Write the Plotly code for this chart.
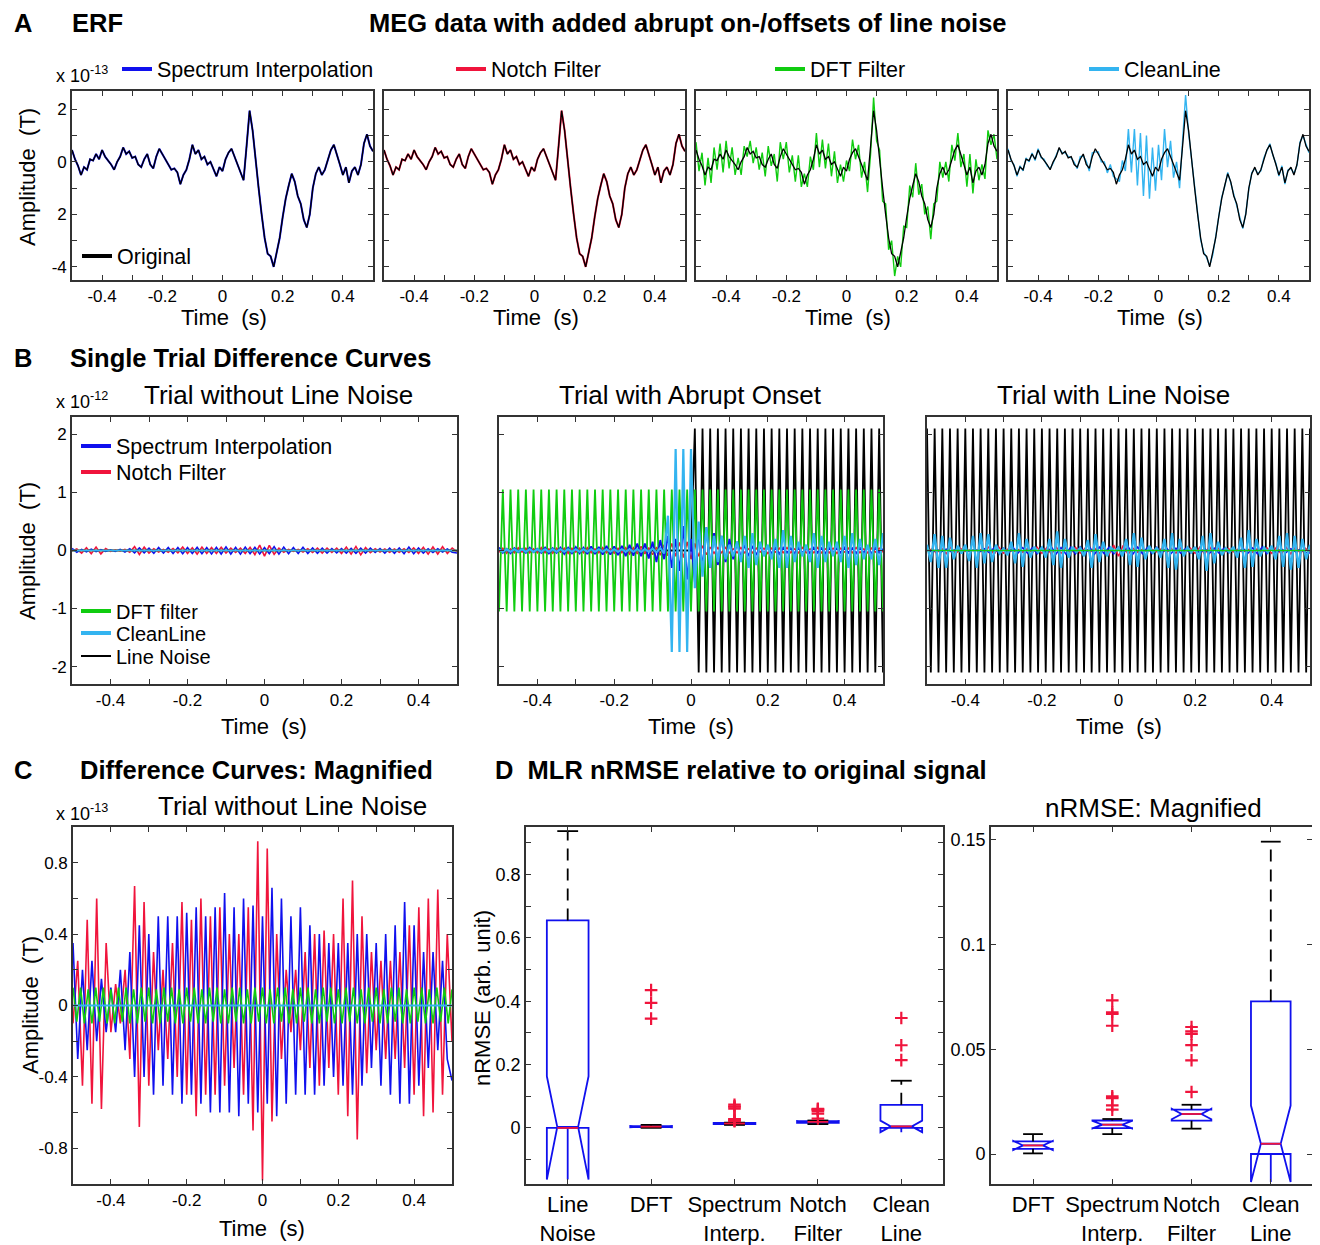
import plotly.graph_objects as go

# page body has an 8px margin: the figure is shifted by OFF, so size it to fit
OFF = 8
W, H = 1320 - OFF, 1245 - OFF
FONT = "Liberation Sans, Arial, Helvetica, sans-serif"
BLUE = "#1010EE"
RED = "#F0143C"
GREEN = "#10CC10"
CYAN = "#33B4F0"
BLACK = "#000000"
FRAME = "#333333"

# ---------------- data ----------------
# sample times (s), 10 ms resolution
TIME = [round(-0.5 + 0.01 * i, 2) for i in range(101)]
# sample times (s), 12.5 ms resolution (panel C curves)
TIME_C = [round(-0.5 + 0.0125 * i, 4) for i in range(81)]
FLAT_T = [-0.5, 0.5]
FLAT_V = [0.0, 0.0]

# Panel A: ERF (x 1e-13 T)
ERF_ORIGINAL = [
    0.45, 0.1, -0.15, -0.5, -0.2, -0.3, 0.1, 0.05, 0.3, 0.1,
    0.45, 0.2, 0.05, -0.1, -0.3, 0.0, 0.2, 0.55, 0.3, 0.4,
    0.15, 0.2, -0.1, -0.2, 0.1, 0.3, -0.1, -0.25, 0.2, 0.5,
    0.3, 0.1, -0.1, -0.3, -0.25, -0.4, -0.85, -0.5, -0.3, 0.1,
    0.65, 0.3, 0.45, 0.1, 0.2, -0.1, 0.0, -0.3, -0.55, -0.2,
    -0.35, 0.1, 0.35, 0.5, 0.2, -0.1, -0.4, -0.7, 0.6, 1.95,
    1.2, 0.0, -1.0, -2.0, -2.9, -3.5, -3.6, -4.0, -3.5, -2.9,
    -2.1, -1.4, -0.9, -0.45, -0.75, -1.3, -1.6, -2.2, -2.5, -2.0,
    -1.0, -0.45, -0.2, -0.5, -0.3, 0.1, 0.45, 0.65, 0.3, -0.1,
    -0.5, -0.2, -0.8, -0.35, -0.2, -0.5, -0.1, 0.7, 1.05, 0.6, 0.4]
DFT_RESIDUAL_A = [
    0.3, -0.45, 0.5, -0.4, 0.35, -0.5, 0.45, -0.35, 0.4, -0.5,
    0.35, -0.45, 0.5, -0.4, 0.45, -0.5, 0.4, -0.35, 0.5, -0.45,
    0.4, -0.5, 0.45, -0.35, 0.5, -0.45, 0.4, -0.5, 0.55, -0.4,
    0.45, -0.5, 0.35, -0.45, 0.5, -0.55, 0.4, -0.45, 0.5, -0.4,
    0.45, -0.5, 0.4, -0.35, 0.5, -0.45, 0.4, -0.5, 0.45, -0.55,
    0.4, -0.45, 0.5, -0.4, 0.45, -0.5, 0.4, -0.45, -0.3, 0.5,
    -0.4, 0.45, -0.5, 0.4, -0.45, 0.5, -0.75, 0.4, -0.5, 0.45,
    -0.4, 0.5, -0.45, 0.4, -0.5, 0.45, -0.4, 0.5, -0.45, 0.4,
    -0.5, 0.45, -0.4, 0.5, -0.45, 0.55, -0.4, 0.45, -0.5, 0.4,
    -0.45, 0.5, -0.4, 0.45, -0.5, 0.4, -0.55, 0.5, -0.4, 0.45, -0.3]
CLEANLINE_RESIDUAL_A = [
    0.05, -0.05, 0.04, -0.05, 0.05, -0.04, 0.05, -0.05, 0.04, -0.05,
    0.05, -0.04, 0.05, -0.05, 0.04, -0.05, 0.05, -0.04, 0.05, -0.05,
    0.06, -0.05, 0.08, -0.06, 0.1, -0.08, 0.12, -0.1, 0.15, -0.12,
    0.08, -0.1, 0.1, -0.12, 0.15, -0.15, 0.2, -0.25, 0.35, -0.45,
    0.6, -0.7, 0.8, -1.0, 0.9, -1.2, 1.0, -1.1, 1.1, -0.9,
    1.0, -0.8, 0.9, -0.7, 0.6, -0.5, 0.4, -0.3, 0.2, 0.6,
    -0.1, 0.1, -0.08, 0.08, -0.06, 0.06, -0.05, 0.05, -0.05, 0.05,
    -0.05, 0.05, -0.04, 0.05, -0.05, 0.04, -0.05, 0.05, -0.04, 0.05,
    -0.05, 0.04, -0.05, 0.05, -0.04, 0.05, -0.05, 0.04, -0.05, 0.05,
    -0.04, 0.05, -0.05, 0.04, -0.05, 0.05, -0.04, 0.05, -0.05, 0.04, -0.05]

# Panel C / B-left: trial without line noise (x 1e-13 T), sampled on TIME_C
CLEAN_TRIAL_NOTCH = [
    -0.1, 0.25, -0.45, 0.48, -0.55, 0.6, -0.58, 0.35, -0.15, 0.12,
    -0.1, 0.2, -0.3, 0.67, -0.68, 0.58, -0.45, 0.3, -0.25, 0.2,
    -0.3, 0.35, -0.4, 0.58, -0.5, 0.48, -0.62, 0.6, -0.5, 0.5,
    -0.5, 0.55, -0.45, 0.4, -0.35, 0.4, -0.5, 0.55, -0.7, 0.92,
    -0.98, 0.88, -0.65, 0.4, -0.3, 0.2, -0.15, 0.2, -0.25, 0.3,
    -0.35, 0.4, -0.45, 0.42, -0.35, 0.4, -0.5, 0.6, -0.62, 0.7,
    -0.75, 0.5, -0.38, 0.3, -0.25, 0.25, -0.3, 0.25, -0.3, 0.3,
    -0.35, 0.45, -0.5, 0.55, -0.62, 0.6, -0.6, 0.65, -0.5, 0.4, -0.2]
CLEAN_TRIAL_SPECTRUM = [
    0.35, -0.3, 0.2, -0.25, 0.25, -0.2, 0.15, -0.15, 0.1, -0.15,
    0.2, -0.25, 0.3, -0.4, 0.45, -0.4, 0.4, -0.5, 0.5, -0.45,
    0.5, -0.5, 0.5, -0.55, 0.52, -0.5, 0.55, -0.55, 0.5, -0.6,
    0.55, -0.6, 0.63, -0.6, 0.55, -0.62, 0.6, -0.55, 0.56, -0.6,
    0.5, -0.55, 0.66, -0.62, 0.6, -0.55, 0.5, -0.5, 0.55, -0.5,
    0.45, -0.5, 0.4, -0.45, 0.35, -0.4, 0.35, -0.45, 0.35, -0.5,
    0.4, -0.45, 0.4, -0.35, 0.35, -0.45, 0.4, -0.5, 0.45, -0.55,
    0.58, -0.55, 0.45, -0.45, 0.3, -0.35, 0.3, -0.25, 0.25, -0.3, -0.42]
# sampled on TIME
CLEAN_TRIAL_DFT = [
    0.1, -0.09, 0.1, -0.1, 0.09, -0.1, 0.1, -0.09, 0.1, -0.1,
    0.09, -0.1, 0.1, -0.09, 0.1, -0.1, 0.09, -0.1, 0.1, -0.09,
    0.1, -0.1, 0.09, -0.1, 0.1, -0.09, 0.1, -0.1, 0.09, -0.1,
    0.1, -0.09, 0.1, -0.1, 0.09, -0.1, 0.1, -0.09, 0.1, -0.1,
    0.09, -0.1, 0.1, -0.09, 0.1, -0.1, 0.09, -0.1, 0.1, -0.09,
    0.1, -0.1, 0.09, -0.1, 0.1, -0.09, 0.1, -0.1, 0.09, -0.1,
    0.1, -0.09, 0.1, -0.1, 0.09, -0.1, 0.1, -0.09, 0.1, -0.1,
    0.09, -0.1, 0.1, -0.09, 0.1, -0.1, 0.09, -0.1, 0.1, -0.09,
    0.1, -0.1, 0.09, -0.1, 0.1, -0.09, 0.1, -0.1, 0.09, -0.1,
    0.1, -0.09, 0.1, -0.1, 0.09, -0.1, 0.1, -0.09, 0.1, -0.1, 0.09]

# Panel B-middle: trial with abrupt onset (x 1e-12 T), sampled on TIME
ONSET_LINE_NOISE = [
    0, 0, 0, 0, 0, 0, 0, 0, 0, 0,
    0, 0, 0, 0, 0, 0, 0, 0, 0, 0,
    0, 0, 0, 0, 0, 0, 0, 0, 0, 0,
    0, 0, 0, 0, 0, 0, 0, 0, 0, 0,
    0, 0, 0, 0, 0, 0, 0, 0, 0, 0,
    0, 2.1, -2.1, 2.1, -2.1, 2.1, -2.1, 2.1, -2.1, 2.1,
    -2.1, 2.1, -2.1, 2.1, -2.1, 2.1, -2.1, 2.1, -2.1, 2.1,
    -2.1, 2.1, -2.1, 2.1, -2.1, 2.1, -2.1, 2.1, -2.1, 2.1,
    -2.1, 2.1, -2.1, 2.1, -2.1, 2.1, -2.1, 2.1, -2.1, 2.1,
    -2.1, 2.1, -2.1, 2.1, -2.1, 2.1, -2.1, 2.1, -2.1, 2.1, -2.1]
ONSET_DFT = [
    -1.05, 1.05, -1.05, 1.05, -1.05, 1.05, -1.05, 1.05, -1.05, 1.05,
    -1.05, 1.05, -1.05, 1.05, -1.05, 1.05, -1.05, 1.05, -1.05, 1.05,
    -1.05, 1.05, -1.05, 1.05, -1.05, 1.05, -1.05, 1.05, -1.05, 1.05,
    -1.05, 1.05, -1.05, 1.05, -1.05, 1.05, -1.05, 1.05, -1.05, 1.05,
    -1.05, 1.05, -1.05, 1.05, -1.05, 1.05, -1.05, 1.05, -1.05, 1.05,
    -1.05, 1.05, -1.05, 1.05, -1.05, 1.05, -1.05, 1.05, -1.05, 1.05,
    -1.05, 1.05, -1.05, 1.05, -1.05, 1.05, -1.05, 1.05, -1.05, 1.05,
    -1.05, 1.05, -1.05, 1.05, -1.05, 1.05, -1.05, 1.05, -1.05, 1.05,
    -1.05, 1.05, -1.05, 1.05, -1.05, 1.05, -1.05, 1.05, -1.05, 1.05,
    -1.05, 1.05, -1.05, 1.05, -1.05, 1.05, -1.05, 1.05, -1.05, 1.05, -1.05]
ONSET_CLEANLINE = [
    0.02, -0.02, 0.02, -0.02, 0.02, -0.02, 0.02, -0.02, 0.02, -0.02,
    0.02, -0.02, 0.02, -0.02, 0.02, -0.02, 0.02, -0.02, 0.02, -0.02,
    0.02, -0.02, 0.02, -0.02, 0.02, -0.02, 0.02, -0.02, 0.02, -0.02,
    0.02, -0.02, 0.02, -0.02, 0.02, -0.02, 0.02, -0.02, 0.02, -0.02,
    0.03, -0.03, 0.04, -0.05, 0.6, -1.75, 1.75, -1.75, 1.75, -1.75,
    1.75, -0.65, 0.5, -0.45, 0.4, -0.3, 0.25, -0.2, 0.25, -0.15,
    0.1, -0.1, 0.15, -0.2, 0.25, -0.3, 0.3, -0.25, 0.15, -0.1,
    0.1, -0.15, 0.2, -0.3, 0.35, -0.3, 0.25, -0.2, 0.15, -0.1,
    0.1, -0.2, 0.3, -0.3, 0.25, -0.2, 0.15, -0.1, 0.15, -0.2,
    0.25, -0.3, 0.3, -0.25, 0.2, -0.15, 0.1, -0.15, 0.2, -0.25, 0.3]
ONSET_SPECTRUM = [
    0.05, -0.04, 0.03, -0.05, 0.04, -0.03, 0.03, -0.04, 0.05, -0.03,
    0.03, -0.04, 0.05, -0.05, 0.04, -0.04, 0.05, -0.06, 0.05, -0.05,
    0.06, -0.05, 0.05, -0.06, 0.07, -0.06, 0.06, -0.07, 0.08, -0.07,
    0.07, -0.08, 0.08, -0.1, 0.1, -0.09, 0.12, -0.1, 0.12, -0.14,
    0.15, -0.2, 0.18, -0.15, 0.25, -0.3, 0.2, -0.35, 0.42, -0.5,
    0.2, -0.55, 0.35, -0.3, 0.4, -0.3, 0.3, -0.25, 0.25, -0.2,
    0.2, -0.15, 0.15, -0.12, 0.1, -0.1, 0.08, -0.08, 0.07, -0.06,
    0.06, -0.05, 0.05, -0.06, 0.05, -0.04, 0.04, -0.05, 0.05, -0.04,
    0.04, -0.05, 0.05, -0.04, 0.04, -0.05, 0.05, -0.04, 0.04, -0.04,
    0.05, -0.04, 0.04, -0.05, 0.05, -0.04, 0.04, -0.05, 0.05, -0.04, 0.03]
ONSET_NOTCH = [
    -0.03, 0.04, -0.05, 0.03, -0.04, 0.05, -0.03, 0.04, -0.04, 0.03,
    -0.04, 0.05, -0.04, 0.03, -0.05, 0.04, -0.03, 0.04, -0.05, 0.04,
    -0.03, 0.04, -0.04, 0.05, -0.04, 0.03, -0.04, 0.05, -0.04, 0.03,
    -0.05, 0.04, -0.04, 0.05, -0.06, 0.05, -0.06, 0.07, -0.06, 0.05,
    -0.07, 0.06, -0.08, 0.1, -0.09, 0.12, -0.1, 0.14, -0.12, 0.15,
    -0.15, 0.12, -0.1, 0.08, -0.07, 0.06, -0.05, 0.05, -0.04, 0.05,
    -0.04, 0.03, -0.04, 0.05, -0.04, 0.03, -0.04, 0.04, -0.03, 0.04,
    -0.05, 0.04, -0.03, 0.04, -0.04, 0.05, -0.04, 0.03, -0.04, 0.05,
    -0.04, 0.03, -0.04, 0.05, -0.04, 0.03, -0.04, 0.04, -0.05, 0.04,
    -0.03, 0.04, -0.04, 0.05, -0.04, 0.03, -0.04, 0.04, -0.03, 0.04, -0.03]

# Panel B-right: trial with line noise (x 1e-12 T), sampled on TIME
NOISY_LINE_NOISE = [
    2.1, -2.1, 2.1, -2.1, 2.1, -2.1, 2.1, -2.1, 2.1, -2.1,
    2.1, -2.1, 2.1, -2.1, 2.1, -2.1, 2.1, -2.1, 2.1, -2.1,
    2.1, -2.1, 2.1, -2.1, 2.1, -2.1, 2.1, -2.1, 2.1, -2.1,
    2.1, -2.1, 2.1, -2.1, 2.1, -2.1, 2.1, -2.1, 2.1, -2.1,
    2.1, -2.1, 2.1, -2.1, 2.1, -2.1, 2.1, -2.1, 2.1, -2.1,
    2.1, -2.1, 2.1, -2.1, 2.1, -2.1, 2.1, -2.1, 2.1, -2.1,
    2.1, -2.1, 2.1, -2.1, 2.1, -2.1, 2.1, -2.1, 2.1, -2.1,
    2.1, -2.1, 2.1, -2.1, 2.1, -2.1, 2.1, -2.1, 2.1, -2.1,
    2.1, -2.1, 2.1, -2.1, 2.1, -2.1, 2.1, -2.1, 2.1, -2.1,
    2.1, -2.1, 2.1, -2.1, 2.1, -2.1, 2.1, -2.1, 2.1, -2.1, 2.1]
NOISY_CLEANLINE = [
    0.1, -0.2, 0.28, -0.3, 0.25, -0.3, 0.22, -0.15, 0.08, -0.05,
    0.1, -0.18, 0.25, -0.3, 0.3, -0.22, 0.28, -0.2, 0.1, -0.05,
    0.03, -0.08, 0.15, -0.22, 0.3, -0.28, 0.2, -0.12, 0.06, -0.03,
    0.05, -0.12, 0.2, -0.25, 0.33, -0.3, 0.2, -0.12, 0.06, -0.03,
    0.04, -0.1, 0.18, -0.3, 0.28, -0.2, 0.15, -0.1, 0.05, -0.02,
    0.05, -0.1, 0.2, -0.25, 0.3, -0.28, 0.22, -0.15, 0.08, -0.04,
    0.05, -0.12, 0.2, -0.3, 0.3, -0.33, 0.2, -0.1, 0.05, -0.03,
    0.06, -0.15, 0.25, -0.35, 0.3, -0.22, 0.15, -0.08, 0.04, -0.03,
    0.06, -0.12, 0.22, -0.3, 0.35, -0.28, 0.2, -0.1, 0.05, -0.03,
    0.08, -0.15, 0.25, -0.28, 0.3, -0.33, 0.25, -0.3, 0.2, -0.15, 0.1]

# Panel D: MLR nRMSE box statistics
D_CATEGORIES = ["Line<br>Noise", "DFT", "Spectrum<br>Interp.", "Notch<br>Filter", "Clean<br>Line"]
D_POS = [1, 2, 3, 4, 5]
D_Q1 = [0.0, 0.0025, 0.0124, 0.0159, 0.0]
D_MEDIAN = [0.0, 0.0041, 0.014, 0.0191, 0.0049]
D_Q3 = [0.655, 0.006, 0.016, 0.0212, 0.0728]
D_NOTCH = [0.163, 0.0022, 0.0018, 0.0025, 0.0182]
D_WHISK_LO = [0.0, 0.0003, 0.0095, 0.0121, 0.0]
D_WHISK_HI = [0.937, 0.0095, 0.0167, 0.0235, 0.149]
D_OUTLIERS = [
    [],
    [0.435, 0.395, 0.345],
    [0.0733, 0.0676, 0.0668, 0.0612, 0.0275, 0.0267, 0.0232, 0.0212],
    [0.0606, 0.0585, 0.0573, 0.0519, 0.0447, 0.0296],
    [0.347, 0.261, 0.214],
]

# ---------------- helpers ----------------
def px(x):
    return (x - OFF) / W


def py(y):
    return 1 - (y - OFF) / H


def xdom(a, b):
    return [px(a), px(b)]


def ydom(top, bottom):
    return [py(bottom), py(top)]


TICK_FONT = dict(size=17, family=FONT, color="black")
AX = dict(showline=True, linecolor=FRAME, linewidth=1.6, mirror="ticks", ticks="inside",
          ticklen=5, tickwidth=1.2, tickcolor=FRAME, showgrid=False, zeroline=False,
          tickfont=TICK_FONT, fixedrange=True)

TIME_TICKS = [-0.4, -0.3, -0.2, -0.1, 0, 0.1, 0.2, 0.3, 0.4]
TIME_TEXT = ["-0.4", "", "-0.2", "", "0", "", "0.2", "", "0.4"]

layout = dict(width=W, height=H, margin=dict(l=0, r=0, t=0, b=0),
              paper_bgcolor="white", plot_bgcolor="white",
              font=dict(family=FONT, size=16, color="black"), showlegend=True)

fig = go.Figure()


def axis_names(n):
    return ("xaxis" if n == 1 else f"xaxis{n}", "yaxis" if n == 1 else f"yaxis{n}",
            "x" if n == 1 else f"x{n}", "y" if n == 1 else f"y{n}")


def set_axes(n, xpx, ypx, xrange, yrange, xticks, xtext, yticks, ytext, xfont=17, yfont=17):
    xa, ya, xr, yr = axis_names(n)
    x = dict(AX, domain=xdom(*xpx), range=xrange, anchor=yr, tickvals=xticks, ticktext=xtext)
    x["tickfont"] = dict(size=xfont, family=FONT, color="black")
    y = dict(AX, domain=ydom(*ypx), range=yrange, anchor=xr, tickvals=yticks, ticktext=ytext)
    y["tickfont"] = dict(size=yfont, family=FONT, color="black")
    layout[xa] = x
    layout[ya] = y


def line(n, xs, ys, color, width):
    _, _, xr, yr = axis_names(n)
    fig.add_trace(go.Scatter(x=xs, y=ys, mode="lines", line=dict(color=color, width=width),
                             xaxis=xr, yaxis=yr, showlegend=False, hoverinfo="skip"))


def legend_entry(legend, name, color, width=4):
    fig.add_trace(go.Scatter(x=[None], y=[None], mode="lines", name=name,
                             line=dict(color=color, width=width), legend=legend,
                             showlegend=True, hoverinfo="skip"))


# ---------------- Panel A ----------------
A_X = [(72, 373), (384, 685), (696, 997), (1008, 1309)]
A_Y = (91, 280)
A_YT = [-4, -3, -2, -1, 0, 1, 2]
A_YTXT = ["-4", "", "2", "", "0", "", "2"]
dft_curve = [o + d for o, d in zip(ERF_ORIGINAL, DFT_RESIDUAL_A)]
cl_curve = [o + d for o, d in zip(ERF_ORIGINAL, CLEANLINE_RESIDUAL_A)]
a_curves = [(ERF_ORIGINAL, BLUE), (ERF_ORIGINAL, RED), (dft_curve, GREEN), (cl_curve, CYAN)]
for k in range(4):
    n = k + 1
    set_axes(n, A_X[k], A_Y, [-0.5, 0.5], [-4.5, 2.7], TIME_TICKS, TIME_TEXT,
             A_YT, A_YTXT if k == 0 else [""] * len(A_YT))
    curve, col = a_curves[k]
    line(n, TIME, curve, col, 2.0 if k < 2 else 1.4)
    line(n, TIME, ERF_ORIGINAL, BLACK, 1.3)

# ---------------- Panel B ----------------
B_X = [(72, 457), (499, 883), (927, 1310)]
B_Y = (417, 684)
B_YT = [-2, -1, 0, 1, 2]
B_YTXT = ["-2", "-1", "0", "1", "2"]
to_e12 = 0.1  # unit change 1e-13 -> 1e-12
clean_notch_b = [v * to_e12 for v in CLEAN_TRIAL_NOTCH]
clean_spec_b = [v * to_e12 for v in CLEAN_TRIAL_SPECTRUM]
for k in range(3):
    n = 5 + k
    set_axes(n, B_X[k], B_Y, [-0.5, 0.5], [-2.3, 2.3], TIME_TICKS, TIME_TEXT,
             B_YT, B_YTXT if k == 0 else [""] * 5)
# left: trial without line noise
line(5, FLAT_T, FLAT_V, BLACK, 1.5)
line(5, TIME_C, clean_notch_b, RED, 1.6)
line(5, TIME_C, clean_spec_b, BLUE, 1.6)
line(5, FLAT_T, FLAT_V, GREEN, 1.6)
line(5, FLAT_T, FLAT_V, CYAN, 1.6)
# middle: abrupt onset
line(6, TIME, ONSET_LINE_NOISE, BLACK, 1.8)
line(6, TIME, ONSET_NOTCH, RED, 1.5)
line(6, TIME, ONSET_DFT, GREEN, 1.8)
line(6, TIME, ONSET_SPECTRUM, BLUE, 1.8)
line(6, TIME, ONSET_CLEANLINE, CYAN, 2.2)
# right: line noise
line(7, TIME, NOISY_LINE_NOISE, BLACK, 1.8)
line(7, TIME_C, clean_notch_b, RED, 1.5)
line(7, TIME_C, clean_spec_b, BLUE, 1.5)
line(7, TIME, NOISY_CLEANLINE, CYAN, 2.4)
line(7, FLAT_T, FLAT_V, GREEN, 1.5)

# ---------------- Panel C ----------------
C_YT = [-0.8, -0.6, -0.4, -0.2, 0, 0.2, 0.4, 0.6, 0.8]
C_YTXT = ["-0.8", "", "-0.4", "", "0", "", "0.4", "", "0.8"]
set_axes(8, (73, 452), (827, 1184), [-0.5, 0.5], [-1.0, 1.0], TIME_TICKS, TIME_TEXT, C_YT, C_YTXT)
line(8, TIME_C, CLEAN_TRIAL_NOTCH, RED, 1.6)
line(8, TIME_C, CLEAN_TRIAL_SPECTRUM, BLUE, 1.6)
line(8, TIME, CLEAN_TRIAL_DFT, GREEN, 1.6)
line(8, FLAT_T, FLAT_V, CYAN, 1.8)

# ---------------- Panel D ----------------
set_axes(9, (526, 943), (827, 1184), [0.5, 5.5], [-0.177, 0.95], D_POS, D_CATEGORIES,
         [-0.1, 0, 0.1, 0.2, 0.3, 0.4, 0.5, 0.6, 0.7, 0.8, 0.9],
         ["", "0", "", "0.2", "", "0.4", "", "0.6", "", "0.8", ""], xfont=22, yfont=18)
set_axes(10, (991, 1312), (827, 1184), [0.47, 4.52], [-0.0143, 0.156], [1, 2, 3, 4], D_CATEGORIES[1:],
         [0, 0.05, 0.1, 0.15], ["0", "0.05", "0.1", "0.15"], xfont=22, yfont=18)

BOX_W = 0.5
NOTCH_W = 0.25  # indentation of the notch, relative to the box width


def draw_boxes(n, idxs):
    _, _, xr, yr = axis_names(n)
    for j, i in enumerate(idxs):
        pos = j + 1
        fig.add_trace(go.Box(x=[pos], q1=[D_Q1[i]], median=[D_MEDIAN[i]], q3=[D_Q3[i]],
                             lowerfence=[D_Q1[i]], upperfence=[D_Q3[i]], notchspan=[D_NOTCH[i]],
                             notched=True, notchwidth=NOTCH_W, width=BOX_W, whiskerwidth=0,
                             boxpoints=False, line=dict(color=BLUE, width=1.8),
                             fillcolor="rgba(0,0,0,0)", xaxis=xr, yaxis=yr,
                             showlegend=False, hoverinfo="skip"))
        wx, wy, cx, cy = [], [], [], []
        half_cap = BOX_W / 4
        if D_WHISK_HI[i] > D_Q3[i]:
            wx += [pos, pos, None]
            wy += [D_Q3[i], D_WHISK_HI[i], None]
            cx += [pos - half_cap, pos + half_cap, None]
            cy += [D_WHISK_HI[i], D_WHISK_HI[i], None]
        if D_WHISK_LO[i] < D_Q1[i]:
            wx += [pos, pos, None]
            wy += [D_Q1[i], D_WHISK_LO[i], None]
            cx += [pos - half_cap, pos + half_cap, None]
            cy += [D_WHISK_LO[i], D_WHISK_LO[i], None]
        if wx:
            fig.add_trace(go.Scatter(x=wx, y=wy, mode="lines",
                                     line=dict(color=BLACK, width=1.8, dash="12px,8px"),
                                     xaxis=xr, yaxis=yr, showlegend=False, hoverinfo="skip"))
            fig.add_trace(go.Scatter(x=cx, y=cy, mode="lines", line=dict(color=BLACK, width=1.8),
                                     xaxis=xr, yaxis=yr, showlegend=False, hoverinfo="skip"))
        hw = BOX_W / 2 - NOTCH_W * BOX_W
        fig.add_trace(go.Scatter(x=[pos - hw, pos + hw], y=[D_MEDIAN[i], D_MEDIAN[i]], mode="lines",
                                 line=dict(color=RED, width=1.8), xaxis=xr, yaxis=yr,
                                 showlegend=False, hoverinfo="skip"))
        if D_OUTLIERS[i]:
            fig.add_trace(go.Scatter(x=[pos] * len(D_OUTLIERS[i]), y=D_OUTLIERS[i], mode="markers",
                                     marker=dict(symbol="cross-thin", size=9,
                                                 line=dict(color=RED, width=2.2)),
                                     xaxis=xr, yaxis=yr, showlegend=False, hoverinfo="skip"))


draw_boxes(9, [0, 1, 2, 3, 4])
draw_boxes(10, [1, 2, 3, 4])

# ---------------- legends (one per entry, placed like the reference) ----------------
LEG_ITEMS = [
    ("Spectrum Interpolation", BLUE, 4, 157, 69),
    ("Notch Filter", RED, 4, 491, 69),
    ("DFT Filter", GREEN, 4, 810, 69),
    ("CleanLine", CYAN, 4, 1124, 69),
    ("Original", BLACK, 4, 117, 256),
    ("Spectrum Interpolation", BLUE, 4, 116, 446),
    ("Notch Filter", RED, 4, 116, 472),
    ("DFT filter", GREEN, 4, 116, 611),
    ("CleanLine", CYAN, 4, 116, 633),
    ("Line Noise", BLACK, 2, 116, 656),
]
for k, (name, col, wdt, tx, ty) in enumerate(LEG_ITEMS):
    key = "legend" if k == 0 else f"legend{k + 1}"
    layout[key] = dict(x=px(tx - 40), y=py(ty), xanchor="left", yanchor="middle",
                       bgcolor="rgba(0,0,0,0)", borderwidth=0,
                       font=dict(family=FONT, size=21.5 if k < 7 else 20, color="black"),
                       itemwidth=30, itemclick=False, itemdoubleclick=False)
    legend_entry(key, name, col, wdt)

# ---------------- annotations ----------------
anns = []


def ann(text, xpx, ypx, size, xanchor="center", angle=0):
    anns.append(dict(text=text, x=px(xpx), y=py(ypx), xref="paper", yref="paper",
                     xanchor=xanchor, yanchor="middle", showarrow=False, textangle=angle,
                     font=dict(family=FONT, size=size, color="black")))


ann("<b>A</b>", 12, 23, 25.5, "left")
ann("<b>ERF</b>", 70, 23, 25.5, "left")
ann("<b>MEG data with added abrupt on-/offsets of line noise</b>", 688, 23, 25.5)
ann("<b>B</b>", 12, 358, 25.5, "left")
ann("<b>Single Trial Difference Curves</b>", 68, 358, 25.5, "left")
ann("<b>C</b>", 12, 770, 25.5, "left")
ann("<b>Difference Curves: Magnified</b>", 78, 770, 25.5, "left")
ann("<b>D  MLR nRMSE relative to original signal</b>", 493, 770, 25.5, "left")

ann("Trial without Line Noise", 278, 395, 26)
ann("Trial with Abrupt Onset", 690, 395, 26)
ann("Trial with Line Noise", 1113, 395, 26)
ann("Trial without Line Noise", 292, 806, 26)
ann("nRMSE: Magnified", 1153, 808, 26)

ann("x 10<sup>-13</sup>", 54, 75, 18, "left")
ann("x 10<sup>-12</sup>", 54, 400, 18, "left")
ann("x 10<sup>-13</sup>", 54, 812, 18, "left")

for cx in (224, 536, 848, 1160):
    ann("Time  (s)", cx, 317, 22)
for cx in (264, 691, 1119):
    ann("Time  (s)", cx, 726, 22)
ann("Time  (s)", 262, 1228, 22)
ann("Amplitude  (T)", 27, 177, 22, angle=-90)
ann("Amplitude  (T)", 27, 551, 22, angle=-90)
ann("Amplitude  (T)", 30, 1005, 22, angle=-90)
ann("nRMSE (arb. unit)", 482, 998, 22, angle=-90)

layout["annotations"] = anns
fig.update_layout(**layout)
fig.write_html("out.html")
